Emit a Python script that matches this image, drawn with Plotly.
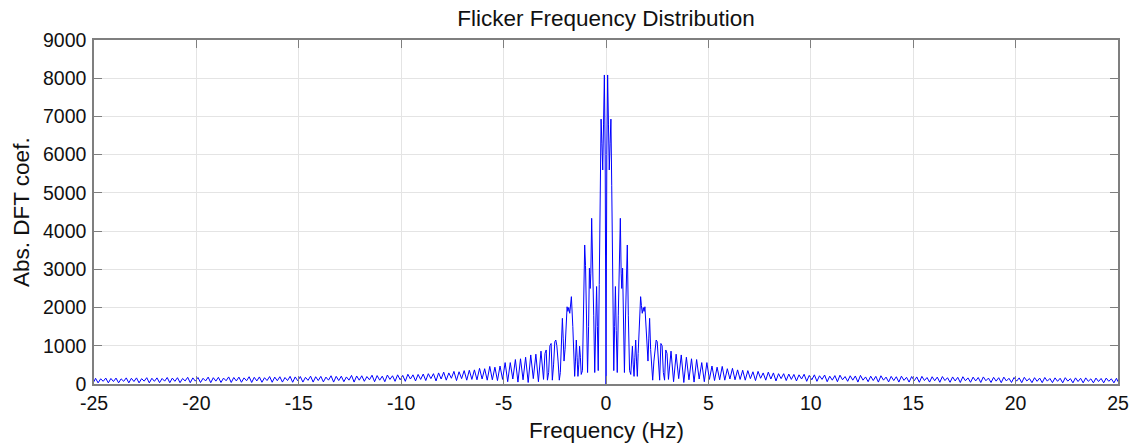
import numpy as np
import plotly.graph_objects as go

# ---- data (positive half of a symmetric magnitude spectrum) ----
center_freq = [0.00, 0.04, 0.08, 0.12, 0.16, 0.20, 0.24, 0.28, 0.33, 0.38, 0.42, 0.46,
               0.50, 0.55, 0.60, 0.65, 0.70, 0.74, 0.77, 0.81, 0.85, 0.90, 0.95, 1.00,
               1.04, 1.09, 1.15, 1.21, 1.25, 1.29, 1.33, 1.37, 1.41, 1.45, 1.49, 1.53,
               1.57, 1.62, 1.69, 1.73, 1.77, 1.82, 1.86, 1.90, 1.95, 2.00, 2.05, 2.09,
               2.13, 2.18, 2.23, 2.28, 2.34, 2.40, 2.45, 2.50, 2.56, 2.62, 2.68, 2.74,
               2.80, 2.86, 2.92, 2.98]
center_abs = [0, 6000, 8085, 6800, 5600, 6300, 6930, 5200, 2600, 350, 1500, 2550,
              1400, 300, 1800, 3400, 4335, 2900, 2500, 3030, 1500, 300, 1700, 3100,
              3637, 1800, 350, 250, 700, 990, 500, 200, 700, 1150, 600, 200,
              800, 1500, 2285, 2050, 1850, 2000, 1900, 2020, 1400, 900, 600, 1200,
              1718, 900, 300, 100, 600, 1000, 1150, 1107, 500, 100, 1060, 1000,
              300, 100, 890, 800]

# tail samples every 0.125 Hz starting at 3.05 Hz (trough, peak, trough, peak, ...)
tail_start = 3.05
tail_step = 0.125
tail_abs = [
    120, 860, 60, 780, 140, 760, 40, 700,
    110, 660, 50, 640, 130, 560, 60, 560,
    120, 470, 90, 440, 110, 460, 100, 400,
    130, 410, 110, 370, 120, 360, 100, 350,
    140, 320, 90, 330, 150, 290, 100, 310,
    130, 290, 80, 270, 140, 270, 90, 260,
    120, 250, 80, 240, 130, 255, 70, 225,
    110, 240, 70, 215, 120, 235, 60, 205,
    100, 220, 60, 230, 110, 195, 70, 215,
    100, 210, 50, 225, 100, 185, 60, 205,
    90, 200, 50, 215, 100, 180, 55, 200,
    90, 190, 50, 205, 95, 175, 50, 195,
    85, 185, 45, 200, 90, 170, 50, 190,
    85, 180, 45, 195, 90, 165, 45, 185,
    80, 175, 40, 190, 85, 160, 45, 180,
    80, 170, 40, 185, 85, 155, 40, 175,
    75, 165, 35, 180, 80, 150, 40, 170,
    75, 160, 35, 175, 80, 145, 35, 165,
    70, 155, 35, 170, 75, 145, 35, 160,
    70, 150, 30, 165, 75, 140, 30, 160,
    65, 150, 30, 160, 70, 135, 30, 155,
    65, 145, 30, 155, 70, 135, 30, 150,
]
end_freq = [25.0]
end_abs = [60]

x_tickvals = [-25, -20, -15, -10, -5, 0, 5, 10, 15, 20, 25]
x_ticktext = ["-25", "-20", "-15", "-10", "-5", "0", "5", "10", "15", "20", "25"]
y_tickvals = [0, 1000, 2000, 3000, 4000, 5000, 6000, 7000, 8000, 9000]
y_ticktext = ["0", "1000", "2000", "3000", "4000", "5000", "6000", "7000", "8000", "9000"]

title_text = "Flicker Frequency Distribution"
xlabel = "Frequency (Hz)"
ylabel = "Abs. DFT coef."

# ---- assemble full symmetric spectrum ----
tail_freq = [tail_start + i * tail_step for i in range(len(tail_abs))]
pos_f = np.array(center_freq + tail_freq + end_freq)
pos_v = np.array(center_abs + tail_abs + end_abs)
freq = np.concatenate([-pos_f[:0:-1], pos_f])
vals = np.concatenate([pos_v[:0:-1], pos_v])

FONT = "Liberation Sans, Arial, Helvetica, sans-serif"
AX = "#7f7f7f"
GRID = "#e4e4e4"
LBL = 22.5

fig = go.Figure()
fig.add_trace(go.Scatter(x=freq, y=vals, mode="lines",
                         line=dict(color="#0000ff", width=1), showlegend=False))

common = dict(showline=True, linecolor=AX, linewidth=1.5, mirror="ticks",
              ticks="inside", ticklen=8, tickcolor=AX, tickwidth=1,
              showgrid=True, gridcolor=GRID, gridwidth=1, zeroline=False,
              automargin=False,
              tickfont=dict(family=FONT, size=19.5, color="#111111"))

fig.update_xaxes(range=[-25, 25], tickvals=x_tickvals, ticktext=x_ticktext,
                 ticklabelstandoff=1, **common)
fig.update_yaxes(range=[0, 9000], tickvals=y_tickvals, ticktext=y_ticktext,
                 ticklabelstandoff=2, **common)

fig.update_layout(
    width=1135, height=446,
    margin=dict(l=94, r=17, t=40, b=62, autoexpand=False),
    paper_bgcolor="white", plot_bgcolor="white",
    title=dict(text=title_text, x=0.5, xref="paper", xanchor="center",
               y=1 - 18 / 446, yref="container", yanchor="middle",
               font=dict(family=FONT, size=LBL, color="#111111")),
    annotations=[
        dict(text=xlabel, xref="paper", yref="paper", x=0.5, y=(384 - 430) / 344,
             xanchor="center", yanchor="middle", showarrow=False,
             font=dict(family=FONT, size=LBL, color="#111111")),
        dict(text=ylabel, xref="paper", yref="paper", x=(21 - 94) / 1024, y=0.5,
             xanchor="center", yanchor="middle", showarrow=False, textangle=-90,
             font=dict(family=FONT, size=LBL, color="#111111")),
    ],
)

fig.write_html("out.html", config={"displayModeBar": False},
               post_script="document.body.style.margin='0';document.body.style.overflow='hidden';")
